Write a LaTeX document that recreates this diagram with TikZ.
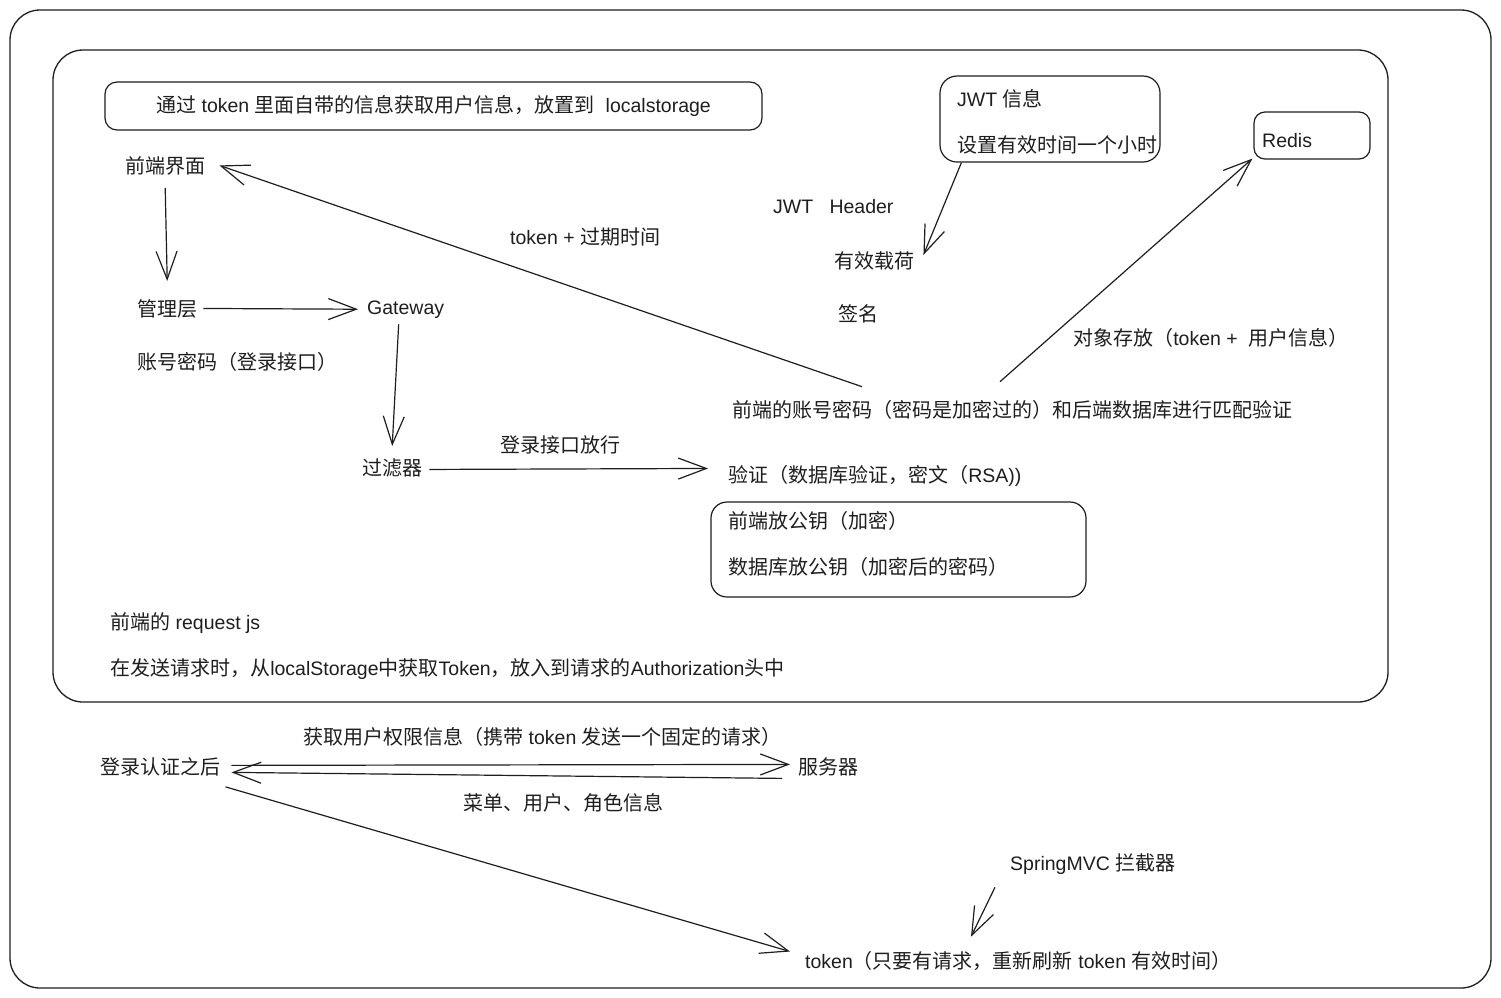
\documentclass[tikz,border=0pt]{standalone}
\usepackage{fontspec}
\setmainfont{Liberation Sans}
\newfontfamily\cjkf[Scale=1.026]{Noto Sans CJK SC}
\newfontfamily\latf{Liberation Sans}
\XeTeXinterchartokenstate=1
\newXeTeXintercharclass\CJKcls
\newcount\cjkcnt
\cjkcnt="3000
\loop
\XeTeXcharclass\cjkcnt=\CJKcls
\ifnum\cjkcnt<"9FFF \advance\cjkcnt by 1
\repeat
\cjkcnt="FF00
\loop
\XeTeXcharclass\cjkcnt=\CJKcls
\ifnum\cjkcnt<"FFEF \advance\cjkcnt by 1
\repeat
\XeTeXinterchartoks 0 \CJKcls = {\cjkf}
\XeTeXinterchartoks 4095 \CJKcls = {\cjkf}
\XeTeXinterchartoks \CJKcls 0 = {\latf}
\XeTeXinterchartoks \CJKcls 4095 = {\latf}
\usetikzlibrary{arrows.meta}
\definecolor{ink}{HTML}{1E1E1E}
\tikzset{
  lbl/.style={inner sep=0pt, anchor=base west, text=ink, font=\fontsize{19.5pt}{23pt}\selectfont},
  sbox/.style={draw=ink, line width=1.2pt, inner sep=0pt, text=ink, font=\fontsize{19.5pt}{23pt}\selectfont},
  frame/.style={draw=ink, line width=1.3pt, rounded corners=30pt},
  arr/.style={draw=ink, line width=1.2pt, -{Straight Barb[length=28pt,width=21pt]}},
}
\begin{document}
\begin{tikzpicture}[x=1pt,y=-1pt]
\useasboundingbox (0,0) rectangle (1501,997);
\fill[white] (0,0) rectangle (1501,997);
% frames
\draw[frame] (10,10) rectangle (1491,988);
\draw[frame] (53,50) rectangle (1388,702);
% boxes
\node[sbox, rounded corners=12pt, minimum width=657pt, minimum height=48pt] (topbox) at (433.5,106) {通过 token 里面自带的信息获取用户信息，放置到\ \ localstorage};
\node[sbox, rounded corners=17pt, minimum width=220pt, minimum height=86pt] (jwt) at (1050,119) {};
\node[sbox, rounded corners=11pt, minimum width=116pt, minimum height=47pt] (redis) at (1312,135.5) {};
\node[sbox, rounded corners=16pt, minimum width=375pt, minimum height=95pt] (keybox) at (898.5,549.5) {};
% texts
\node[lbl] (qd) at (125,173) {前端界面};
\node[lbl] (glc) at (137,316) {管理层};
\node[lbl] (gw) at (367,314) {Gateway};
\node[lbl] (zhmm) at (137,369) {账号密码（登录接口）};
\node[lbl] (glq) at (362,475) {过滤器};
\node[lbl] (fx) at (500,452) {登录接口放行};
\node[lbl] (yz) at (728,482) {验证（数据库验证，密文（RSA))};
\node[lbl] (pp) at (732,417) {前端的账号密码（密码是加密过的）和后端数据库进行匹配验证};
\node[lbl] (gy1) at (728,528) {前端放公钥（加密）};
\node[lbl] (gy2) at (728,574) {数据库放公钥（加密后的密码）};
\node[lbl] (rq) at (110,629) {前端的 request js};
\node[lbl] (ls) at (110,675) {在发送请求时，从localStorage中获取Token，放入到请求的Authorization头中};
\node[lbl] (jwt1) at (957,106) {JWT 信息};
\node[lbl] (jwt2) at (957,152) {设置有效时间一个小时};
\node[lbl] (rds) at (1262,147) {Redis};
\node[lbl] (jh) at (773,213) {JWT\ \ \ Header};
\node[lbl] (yxzh) at (834,268) {有效载荷};
\node[lbl] (qm) at (838,321) {签名};
\node[lbl] (tk) at (510,244) {token + 过期时间};
\node[lbl] (dx) at (1073,345) {对象存放（token +\ \ 用户信息）};
\node[lbl] (dl) at (100,774) {登录认证之后};
\node[lbl] (fwq) at (798,774) {服务器};
\node[lbl] (hq) at (303,744) {获取用户权限信息（携带 token 发送一个固定的请求）};
\node[lbl] (cd) at (463,810) {菜单、用户、角色信息};
\node[lbl] (smvc) at (1010,870) {SpringMVC 拦截器};
\node[lbl] (tkn) at (805,968) {token（只要有请求，重新刷新 token 有效时间）};
% arrows
\draw[arr] ([yshift=-13pt]qd.south) -- ([yshift=18pt]glc.north);
\draw[arr] ([xshift=6pt]glc.east) -- ([xshift=-9pt]gw.west);
\draw[arr] ([xshift=-7pt,yshift=-6pt]gw.south) -- ([yshift=12pt]glq.north);
\draw[arr] ([xshift=7pt,yshift=-2pt]glq.east) -- ([xshift=-20pt,yshift=7pt]yz.west);
\draw[arr] ([xshift=130pt,yshift=13pt]pp.north west) -- ([xshift=14pt]qd.east);
\draw[arr] ([xshift=268pt,yshift=18pt]pp.north west) -- ([xshift=-1pt,yshift=1pt]redis.south west);
\draw[arr] ([xshift=22pt]jwt.south west) -- ([xshift=9pt,yshift=-4pt]yxzh.north east);
\draw[arr] ([xshift=11pt,yshift=1pt]dl.east) -- ([xshift=-8pt,yshift=2pt]fwq.west);
\draw[arr] ([xshift=-16pt,yshift=-12pt]fwq.west) -- ([xshift=11pt,yshift=-6pt]dl.east);
\draw[arr] ([xshift=5pt,yshift=-11pt]dl.south east) -- ([xshift=-15pt,yshift=9pt]tkn.west);
\draw[arr] ([xshift=-15pt,yshift=-13pt]smvc.south west) -- ([xshift=166pt,yshift=14pt]tkn.north west);
\end{tikzpicture}
\end{document}
